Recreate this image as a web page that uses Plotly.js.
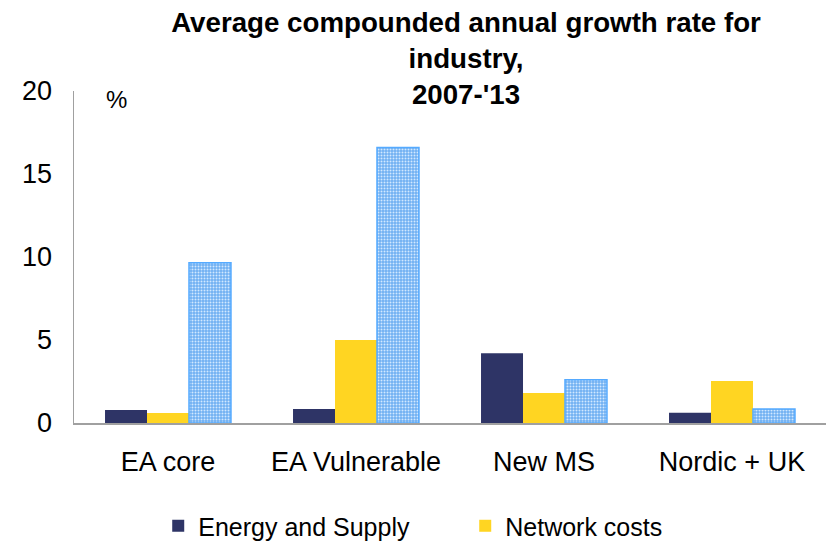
<!DOCTYPE html>
<html>
<head>
<meta charset="utf-8">
<script src="https://cdn.plot.ly/plotly-3.0.1.min.js"></script>
<style>html,body{margin:0;padding:0;background:#fff;}#chart{width:827px;height:542px;}</style>
</head>
<body>
<div id="chart"></div>
<script>
const categories = ["EA core", "EA Vulnerable", "New MS", "Nordic + UK"];
const energySupply = [0.78, 0.85, 4.2, 0.62];
const networkCosts = [0.6, 5.0, 1.8, 2.53];
const taxesLevies = [9.66, 16.6, 2.6, 0.84];
const yTicks = [0, 5, 10, 15, 20];

const FONT = "Liberation Sans, Arial, sans-serif";

const traces = [
  {type: "bar", name: "Energy and Supply", x: categories, y: energySupply,
   marker: {color: "#2E3466", line: {width: 0}}},
  {type: "bar", name: "Network costs", x: categories, y: networkCosts,
   marker: {color: "#FFD522", line: {width: 0}}},
  {type: "bar", name: "Taxes and levies", x: categories, y: taxesLevies, showlegend: false,
   marker: {color: "#8EC2F6", line: {color: "#55AAFF", width: 1.5},
            pattern: {shape: ".", fgcolor: "#D2E8FF", bgcolor: "#6FB0F2", size: 3, solidity: 0.35}}}
];

const layout = {
  width: 827, height: 542,
  margin: {l: 74, r: 1, t: 91, b: 119, pad: 0},
  paper_bgcolor: "#fff", plot_bgcolor: "#fff",
  font: {family: FONT, color: "#000", size: 27},
  title: {text: "<b>Average compounded annual growth rate for<br>industry,<br>2007-'13</b>",
          font: {family: FONT, size: 27.7, color: "#000"},
          x: 0.5635, xref: "container", xanchor: "center",
          y: 0.941, yref: "container", yanchor: "top"},
  barmode: "group", bargap: 0.33, bargroupgap: 0,
  showlegend: true,
  legend: {orientation: "h", x: 0.112, xanchor: "left", xref: "paper",
           y: 0.0295, yref: "container", yanchor: "middle",
           font: {family: FONT, size: 25, color: "#000"}, entrywidth: 262, traceorder: "normal",
           bgcolor: "rgba(0,0,0,0)"},
  xaxis: {showline: true, linecolor: "#A0A0A0", linewidth: 1.5, showgrid: false, zeroline: false,
          ticks: "", tickfont: {family: FONT, size: 27, color: "#000"}, ticklabelstandoff: 14,
          fixedrange: true},
  yaxis: {range: [0, 20], tickvals: yTicks, ticktext: yTicks.map(String),
          showline: true, linecolor: "#A0A0A0", linewidth: 1.5, showgrid: false, zeroline: false,
          ticks: "", tickfont: {family: FONT, size: 27, color: "#000"}, ticklabelstandoff: 15,
          fixedrange: true},
  annotations: [{text: "%", xref: "paper", yref: "paper", x: 0.056, y: 0.973,
                 xanchor: "center", yanchor: "middle", showarrow: false,
                 font: {family: FONT, size: 24, color: "#000"}}]
};

Plotly.newPlot("chart", traces, layout, {staticPlot: true, displayModeBar: false});
</script>
</body>
</html>
